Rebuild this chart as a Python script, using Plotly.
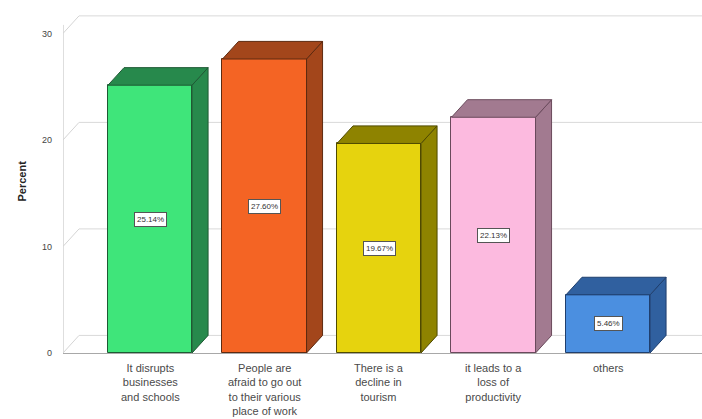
import plotly.graph_objects as go

# Survey responses (percent of respondents)
categories = [
    "It disrupts<br>businesses<br>and schools",
    "People are<br>afraid to go out<br>to their various<br>place of work",
    "There is a<br>decline in<br>tourism",
    "it leads to a<br>loss of<br>productivity",
    "others",
]
percent = [25.14, 27.60, 19.67, 22.13, 5.46]
y_ticks = [0, 10, 20, 30]

front_colors = ["#3FE57A", "#F46424", "#E6D30E", "#FCBADF", "#4B8FE0"]
shade_colors = ["#27894C", "#A3461B", "#8E8300", "#A27A90", "#30609F"]
edge_colors = ["#1E5A34", "#5E2A10", "#4F4A00", "#6A4A5C", "#1F3F6E"]

# 3-D extrusion geometry (data units)
BAR_W = 0.734
DX = 0.14
DY = 1.65
X_MIN, X_MAX = -0.76, 4.821
Y_MAX = 32.2

xs = list(range(len(percent)))

fig = go.Figure()

# Front faces
fig.add_trace(go.Bar(
    x=xs, y=percent, width=BAR_W,
    marker=dict(color=front_colors, line=dict(color=edge_colors, width=1)),
    hoverinfo="skip", showlegend=False,
))

# Side and top faces
for x, v, shade, edge in zip(xs, percent, shade_colors, edge_colors):
    r = x + BAR_W / 2
    l = x - BAR_W / 2
    fig.add_trace(go.Scatter(
        x=[r, r + DX, r + DX, r, r], y=[0, DY, v + DY, v, 0],
        fill="toself", fillcolor=shade, mode="lines",
        line=dict(color=edge, width=1), hoverinfo="skip", showlegend=False,
    ))
    fig.add_trace(go.Scatter(
        x=[l, l + DX, r + DX, r, l], y=[v, v + DY, v + DY, v, v],
        fill="toself", fillcolor=shade, mode="lines",
        line=dict(color=edge, width=1), hoverinfo="skip", showlegend=False,
    ))

# Walls: left edge, diagonals and back gridlines
shapes = [dict(type="line", xref="x", yref="y", x0=X_MIN, x1=X_MIN,
               y0=0, y1=y_ticks[-1] + 0.8, line=dict(color="#BDBDBD", width=1),
               layer="below")]
for t in y_ticks:
    shapes.append(dict(type="line", xref="x", yref="y", x0=X_MIN, x1=X_MIN + DX,
                       y0=t, y1=t + DY, line=dict(color="#D4D4D4", width=1),
                       layer="below"))
    shapes.append(dict(type="line", xref="x", yref="y", x0=X_MIN + DX, x1=X_MAX,
                       y0=t + DY, y1=t + DY, line=dict(color="#D9D9D9", width=1),
                       layer="below"))

annotations = []
for x, v in zip(xs, percent):
    annotations.append(dict(
        x=x, y=v / 2, xref="x", yref="y", text=f"{v:.2f}%", showarrow=False,
        bgcolor="white", bordercolor="#555555", borderwidth=1, borderpad=2,
        font=dict(family="Liberation Sans, Arial, sans-serif", size=8, color="#333333"),
    ))
for x, c in zip(xs, categories):
    annotations.append(dict(
        x=x, y=0, xref="x", yref="y", text=c, showarrow=False,
        yanchor="top", yshift=-7, align="center",
        font=dict(family="Liberation Sans, Arial, sans-serif", size=11, color="#4A4A4A"),
    ))
annotations.append(dict(
    x=0, y=0.5, xref="paper", yref="paper", xanchor="center", yanchor="middle",
    xshift=-42, text="<b>Percent</b>", textangle=-90, showarrow=False,
    font=dict(family="Liberation Sans, Arial, sans-serif", size=11, color="#222222"),
))

fig.update_layout(
    width=702, height=419,
    margin=dict(l=63, r=0, t=10, b=66),
    paper_bgcolor="white", plot_bgcolor="white",
    shapes=shapes, annotations=annotations,
    bargap=0,
    xaxis=dict(range=[X_MIN, X_MAX], showticklabels=False, ticks="",
               showgrid=False, zeroline=False, showline=True,
               linecolor="#A8A8A8", linewidth=1, fixedrange=True),
    yaxis=dict(range=[0, Y_MAX], tickvals=y_ticks, ticks="", showgrid=False,
               zeroline=False, showline=False, ticklabelstandoff=10,
               tickfont=dict(family="Liberation Sans, Arial, sans-serif", size=9,
                             color="#444444"), fixedrange=True),
)

fig.write_html("out.html")
